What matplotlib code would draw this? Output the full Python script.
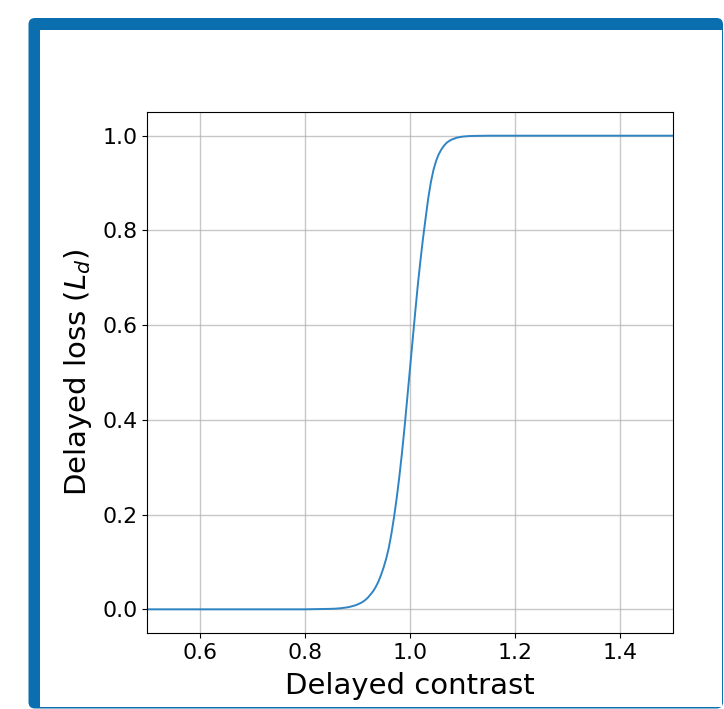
import matplotlib
matplotlib.use('Agg')
import matplotlib.pyplot as plt
from matplotlib.patches import FancyBboxPatch, Rectangle

# -----------------------------
# Data
# -----------------------------
contrast = [0.50, 0.80, 0.85, 0.86, 0.87, 0.88, 0.885, 0.89, 0.895, 0.90, 0.905,
            0.91, 0.915, 0.92, 0.925, 0.93, 0.935, 0.94, 0.945, 0.95, 0.955,
            0.96, 0.965, 0.97, 0.975, 0.98, 0.985, 0.99, 0.995, 1.00, 1.005,
            1.01, 1.015, 1.02, 1.025, 1.03, 1.035, 1.04, 1.045, 1.05, 1.055,
            1.06, 1.065, 1.07, 1.075, 1.08, 1.085, 1.09, 1.10, 1.11, 1.12,
            1.15, 1.20, 1.50]
loss = [0.0, 0.0, 0.001, 0.0015, 0.0025, 0.004, 0.005, 0.0065, 0.008, 0.010, 0.0125,
        0.0155, 0.0195, 0.0245, 0.031, 0.038, 0.047, 0.058, 0.072, 0.088, 0.107,
        0.130, 0.160, 0.195, 0.235, 0.280, 0.330, 0.385, 0.445, 0.505, 0.565,
        0.625, 0.683, 0.735, 0.783, 0.826, 0.868, 0.902, 0.928, 0.947, 0.961,
        0.971, 0.979, 0.985, 0.989, 0.992, 0.994, 0.996, 0.998, 0.999, 0.9995,
        1.0, 1.0, 1.0]

W, H = 724, 709
fig = plt.figure(figsize=(W / 100, H / 100), dpi=100)

# -----------------------------
# Blue frame around the figure
# -----------------------------
outer = FancyBboxPatch((28.5 / W, 1 - 708.5 / H), (723 - 28.5) / W, (708.5 - 18) / H,
                       boxstyle="round,pad=0,rounding_size=0.009",
                       transform=fig.transFigure, facecolor='#0a6eaf',
                       edgecolor='none', zorder=-2)
inner = Rectangle((40 / W, 1 - 706.5 / H), (721.5 - 40) / W, (706.5 - 30) / H,
                  transform=fig.transFigure, facecolor='white',
                  edgecolor='none', zorder=-1)
fig.patches.extend([outer, inner])

# -----------------------------
# Sigmoid curve
# -----------------------------
ax = fig.add_axes([147 / W, 1 - 633 / H, (672.7 - 147) / W, (633 - 112) / H])
ax.plot(contrast, loss, color='#2f85c4', linewidth=1.4)
ax.set_xlim(0.5, 1.5)
ax.set_ylim(-0.05, 1.05)
ax.set_xticks([0.6, 0.8, 1.0, 1.2, 1.4])
ax.set_yticks([0.0, 0.2, 0.4, 0.6, 0.8, 1.0])
ax.tick_params(labelsize=15.8)
ax.set_xlabel("Delayed contrast", fontsize=21, labelpad=7)
ax.set_ylabel("Delayed loss ($L_d$)", fontsize=21, labelpad=6)
ax.grid(True, color='#b0b0b0', alpha=0.7, linewidth=1.0)

plt.savefig("out.png", dpi=100)
plt.close()
